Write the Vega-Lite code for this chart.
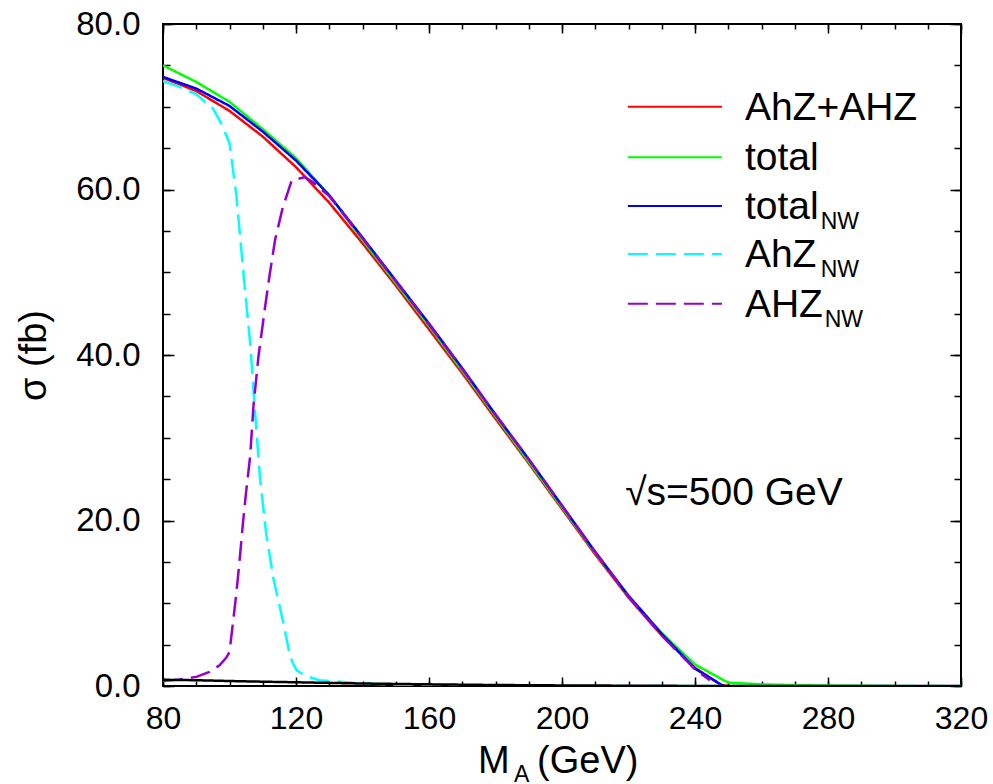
{
  "$schema": "https://vega.github.io/schema/vega-lite/v6.json",
  "width": 798,
  "height": 662,
  "autosize": {"type": "none"},
  "padding": {"left": 163, "top": 24, "right": 32, "bottom": 98},
  "background": "white",
  "config": {
    "view": {"stroke": "black", "strokeWidth": 2},
    "font": "Liberation Sans",
    "axis": {"grid": false, "domain": false, "tickColor": "black", "labelColor": "black", "titleColor": "black", "tickWidth": 1.5}
  },
  "datasets": {
    "curves": [
      {"series": "AhZ+AHZ", "m": 80, "sigma": 73.5}, {"series": "AhZ+AHZ", "m": 90, "sigma": 71.9}, {"series": "AhZ+AHZ", "m": 100, "sigma": 69.5}, {"series": "AhZ+AHZ", "m": 110, "sigma": 66.4}, {"series": "AhZ+AHZ", "m": 120, "sigma": 62.7}, {"series": "AhZ+AHZ", "m": 130, "sigma": 58.4}, {"series": "AhZ+AHZ", "m": 140, "sigma": 53.5}, {"series": "AhZ+AHZ", "m": 150, "sigma": 48.4}, {"series": "AhZ+AHZ", "m": 160, "sigma": 43.1}, {"series": "AhZ+AHZ", "m": 170, "sigma": 37.8}, {"series": "AhZ+AHZ", "m": 180, "sigma": 32.3}, {"series": "AhZ+AHZ", "m": 190, "sigma": 26.9}, {"series": "AhZ+AHZ", "m": 200, "sigma": 21.4}, {"series": "AhZ+AHZ", "m": 210, "sigma": 15.9}, {"series": "AhZ+AHZ", "m": 220, "sigma": 10.7}, {"series": "AhZ+AHZ", "m": 230, "sigma": 6.1}, {"series": "AhZ+AHZ", "m": 240, "sigma": 2.2}, {"series": "AhZ+AHZ", "m": 248, "sigma": 0.1}, {"series": "AhZ+AHZ", "m": 250, "sigma": 0.0},
      {"series": "total", "m": 80, "sigma": 75.0}, {"series": "total", "m": 90, "sigma": 73.0}, {"series": "total", "m": 100, "sigma": 70.6}, {"series": "total", "m": 110, "sigma": 67.3}, {"series": "total", "m": 120, "sigma": 63.8}, {"series": "total", "m": 130, "sigma": 59.3}, {"series": "total", "m": 140, "sigma": 53.9}, {"series": "total", "m": 150, "sigma": 48.7}, {"series": "total", "m": 160, "sigma": 43.5}, {"series": "total", "m": 170, "sigma": 38.1}, {"series": "total", "m": 180, "sigma": 32.6}, {"series": "total", "m": 190, "sigma": 27.1}, {"series": "total", "m": 200, "sigma": 21.6}, {"series": "total", "m": 210, "sigma": 16.1}, {"series": "total", "m": 220, "sigma": 10.9}, {"series": "total", "m": 230, "sigma": 6.4}, {"series": "total", "m": 240, "sigma": 2.6}, {"series": "total", "m": 250, "sigma": 0.4}, {"series": "total", "m": 260, "sigma": 0.2}, {"series": "total", "m": 270, "sigma": 0.1}, {"series": "total", "m": 280, "sigma": 0.05}, {"series": "total", "m": 290, "sigma": 0.02}, {"series": "total", "m": 300, "sigma": 0.0},
      {"series": "total_NW", "m": 80, "sigma": 73.6}, {"series": "total_NW", "m": 90, "sigma": 72.2}, {"series": "total_NW", "m": 100, "sigma": 70.1}, {"series": "total_NW", "m": 110, "sigma": 67.0}, {"series": "total_NW", "m": 120, "sigma": 63.5}, {"series": "total_NW", "m": 130, "sigma": 59.3}, {"series": "total_NW", "m": 140, "sigma": 54.2}, {"series": "total_NW", "m": 150, "sigma": 49.0}, {"series": "total_NW", "m": 160, "sigma": 43.8}, {"series": "total_NW", "m": 170, "sigma": 38.4}, {"series": "total_NW", "m": 180, "sigma": 32.8}, {"series": "total_NW", "m": 190, "sigma": 27.4}, {"series": "total_NW", "m": 200, "sigma": 21.8}, {"series": "total_NW", "m": 210, "sigma": 16.2}, {"series": "total_NW", "m": 220, "sigma": 10.9}, {"series": "total_NW", "m": 230, "sigma": 6.3}, {"series": "total_NW", "m": 240, "sigma": 2.1}, {"series": "total_NW", "m": 248.5, "sigma": 0.0},
      {"series": "AhZ_NW", "m": 80, "sigma": 73.1}, {"series": "AhZ_NW", "m": 85, "sigma": 72.4}, {"series": "AhZ_NW", "m": 90, "sigma": 71.5}, {"series": "AhZ_NW", "m": 95, "sigma": 69.8}, {"series": "AhZ_NW", "m": 97.5, "sigma": 68.0}, {"series": "AhZ_NW", "m": 100, "sigma": 65.6}, {"series": "AhZ_NW", "m": 102, "sigma": 59.5}, {"series": "AhZ_NW", "m": 103.2, "sigma": 54.3}, {"series": "AhZ_NW", "m": 104.5, "sigma": 48.5}, {"series": "AhZ_NW", "m": 106.2, "sigma": 41.5}, {"series": "AhZ_NW", "m": 107.7, "sigma": 33.0}, {"series": "AhZ_NW", "m": 109.2, "sigma": 25.0}, {"series": "AhZ_NW", "m": 111, "sigma": 18.5}, {"series": "AhZ_NW", "m": 113.2, "sigma": 13.0}, {"series": "AhZ_NW", "m": 115, "sigma": 9.8}, {"series": "AhZ_NW", "m": 116.2, "sigma": 7.6}, {"series": "AhZ_NW", "m": 118, "sigma": 4.0}, {"series": "AhZ_NW", "m": 119, "sigma": 2.8}, {"series": "AhZ_NW", "m": 120.2, "sigma": 1.9}, {"series": "AhZ_NW", "m": 123, "sigma": 1.2}, {"series": "AhZ_NW", "m": 127, "sigma": 0.7}, {"series": "AhZ_NW", "m": 135, "sigma": 0.45}, {"series": "AhZ_NW", "m": 140, "sigma": 0.3}, {"series": "AhZ_NW", "m": 150, "sigma": 0.15}, {"series": "AhZ_NW", "m": 160, "sigma": 0.08}, {"series": "AhZ_NW", "m": 180, "sigma": 0.02}, {"series": "AhZ_NW", "m": 200, "sigma": 0.0}, {"series": "AhZ_NW", "m": 320, "sigma": 0.0},
      {"series": "AHZ_NW", "m": 80, "sigma": 0.6}, {"series": "AHZ_NW", "m": 85, "sigma": 0.8}, {"series": "AHZ_NW", "m": 90, "sigma": 1.1}, {"series": "AHZ_NW", "m": 94, "sigma": 1.7}, {"series": "AHZ_NW", "m": 97, "sigma": 2.5}, {"series": "AHZ_NW", "m": 99, "sigma": 3.4}, {"series": "AHZ_NW", "m": 100, "sigma": 4.1}, {"series": "AHZ_NW", "m": 101, "sigma": 7.5}, {"series": "AHZ_NW", "m": 102, "sigma": 11.0}, {"series": "AHZ_NW", "m": 103, "sigma": 15.0}, {"series": "AHZ_NW", "m": 104, "sigma": 19.5}, {"series": "AHZ_NW", "m": 105, "sigma": 23.5}, {"series": "AHZ_NW", "m": 106.2, "sigma": 27.7}, {"series": "AHZ_NW", "m": 107.2, "sigma": 33.8}, {"series": "AHZ_NW", "m": 108.7, "sigma": 39.8}, {"series": "AHZ_NW", "m": 110.7, "sigma": 45.8}, {"series": "AHZ_NW", "m": 112, "sigma": 49.5}, {"series": "AHZ_NW", "m": 113.7, "sigma": 53.9}, {"series": "AHZ_NW", "m": 116, "sigma": 57.8}, {"series": "AHZ_NW", "m": 118.7, "sigma": 61.1}, {"series": "AHZ_NW", "m": 122.7, "sigma": 61.5}, {"series": "AHZ_NW", "m": 125, "sigma": 60.9}, {"series": "AHZ_NW", "m": 130, "sigma": 59.2}, {"series": "AHZ_NW", "m": 140, "sigma": 54.1}, {"series": "AHZ_NW", "m": 150, "sigma": 48.9}, {"series": "AHZ_NW", "m": 160, "sigma": 43.7}, {"series": "AHZ_NW", "m": 170, "sigma": 38.3}, {"series": "AHZ_NW", "m": 180, "sigma": 32.8}, {"series": "AHZ_NW", "m": 190, "sigma": 27.4}, {"series": "AHZ_NW", "m": 200, "sigma": 21.8}, {"series": "AHZ_NW", "m": 210, "sigma": 16.2}, {"series": "AHZ_NW", "m": 220, "sigma": 10.8}, {"series": "AHZ_NW", "m": 230, "sigma": 6.1}, {"series": "AHZ_NW", "m": 240, "sigma": 2.0}, {"series": "AHZ_NW", "m": 244.5, "sigma": 0.7},
      {"series": "other", "m": 80, "sigma": 0.75}, {"series": "other", "m": 90, "sigma": 0.7}, {"series": "other", "m": 100, "sigma": 0.6}, {"series": "other", "m": 110, "sigma": 0.52}, {"series": "other", "m": 120, "sigma": 0.45}, {"series": "other", "m": 140, "sigma": 0.3}, {"series": "other", "m": 160, "sigma": 0.2}, {"series": "other", "m": 180, "sigma": 0.12}, {"series": "other", "m": 200, "sigma": 0.07}, {"series": "other", "m": 230, "sigma": 0.02}, {"series": "other", "m": 250, "sigma": 0.0}, {"series": "other", "m": 320, "sigma": 0.0}
    ],
    "legend": [
      {"series": "AhZ+AHZ", "label": "AhZ+AHZ", "sub": "", "ly": 70.0, "sx": 0},
      {"series": "total", "label": "total", "sub": "", "ly": 63.9, "sx": 0},
      {"series": "total_NW", "label": "total", "sub": "NW", "ly": 58.0, "sx": 277.8},
      {"series": "AhZ_NW", "label": "AhZ", "sub": "NW", "ly": 52.2, "sx": 277.8},
      {"series": "AHZ_NW", "label": "AHZ", "sub": "NW", "ly": 46.2, "sx": 279.0}
    ],
    "frame": [{"m": 80, "sigma": 0}]
  },
  "layer": [
    {
      "data": {"name": "frame"},
      "mark": {"type": "point", "opacity": 0},
      "encoding": {
        "x": {"field": "m", "type": "quantitative", "scale": {"domain": [80, 320], "nice": false, "zero": false}, "axis": {"orient": "bottom", "values": [80,90,100,110,120,130,140,150,160,170,180,190,200,210,220,230,240,250,260,270,280,290,300,310,320], "labels": false, "tickSize": -5, "title": null}},
        "y": {"field": "sigma", "type": "quantitative", "scale": {"domain": [0, 80], "nice": false}, "axis": {"orient": "left", "values": [0,5,10,15,20,25,30,35,40,45,50,55,60,65,70,75,80], "labels": false, "tickSize": -7, "title": null}}
      }
    },
    {
      "data": {"name": "frame"},
      "mark": {"type": "point", "opacity": 0},
      "encoding": {
        "x": {"field": "m", "type": "quantitative", "axis": {"orient": "top", "values": [80,90,100,110,120,130,140,150,160,170,180,190,200,210,220,230,240,250,260,270,280,290,300,310,320], "labels": false, "tickSize": -5, "title": null}},
        "y": {"field": "sigma", "type": "quantitative", "axis": {"orient": "right", "values": [0,5,10,15,20,25,30,35,40,45,50,55,60,65,70,75,80], "labels": false, "tickSize": -7, "title": null}}
      }
    },
    {
      "data": {"name": "frame"},
      "mark": {"type": "point", "opacity": 0},
      "encoding": {
        "x": {"field": "m", "type": "quantitative", "axis": {"orient": "bottom", "values": [80,120,160,200,240,280,320], "labels": false, "tickSize": -9, "title": null}},
        "y": {"field": "sigma", "type": "quantitative", "axis": {"orient": "left", "values": [0,20,40,60,80], "labels": false, "tickSize": -11, "title": null}}
      }
    },
    {
      "data": {"name": "frame"},
      "mark": {"type": "point", "opacity": 0},
      "encoding": {
        "x": {"field": "m", "type": "quantitative", "axis": {"orient": "top", "values": [80,120,160,200,240,280,320], "labels": false, "tickSize": -9, "title": null}},
        "y": {"field": "sigma", "type": "quantitative", "axis": {"orient": "right", "values": [0,20,40,60,80], "labels": false, "tickSize": -11, "title": null}}
      }
    },
    {
      "data": {"name": "curves"},
      "mark": {"type": "line", "strokeWidth": 2.5, "clip": true},
      "encoding": {
        "x": {"field": "m", "type": "quantitative", "axis": {"orient": "bottom", "values": [80,120,160,200,240,280,320], "format": "d", "labelFontSize": 32, "labelPadding": 17, "ticks": false, "title": null, "labelFlush": false}},
        "y": {"field": "sigma", "type": "quantitative", "axis": {"orient": "left", "values": [0,20,40,60,80], "format": ".1f", "labelFontSize": 33, "labelPadding": 23, "ticks": false, "labelFlush": false, "title": "σ (fb)", "titleFontSize": 38, "titleFontWeight": "normal", "titlePadding": 22}},
        "color": {"field": "series", "type": "nominal", "scale": {"domain": ["AhZ+AHZ", "total", "total_NW", "AhZ_NW", "AHZ_NW", "other"], "range": ["#ff0000", "#00ff00", "#0000ff", "#00ffff", "#9400d3", "#000000"]}, "legend": null},
        "strokeDash": {"field": "series", "type": "nominal", "scale": {"domain": ["AhZ+AHZ", "total", "total_NW", "AhZ_NW", "AHZ_NW", "other"], "range": [[1, 0], [1, 0], [1, 0], [20, 8], [20, 8], [1, 0]]}, "legend": null}
      }
    },
    {
      "data": {"name": "legend"},
      "mark": {"type": "rule", "strokeWidth": 2},
      "encoding": {
        "x": {"datum": 219.8, "type": "quantitative", "axis": null},
        "x2": {"datum": 248.1},
        "y": {"field": "ly", "type": "quantitative", "axis": null},
        "color": {"field": "series", "type": "nominal", "legend": null},
        "strokeDash": {"field": "series", "type": "nominal", "legend": null}
      }
    },
    {
      "data": {"name": "legend"},
      "mark": {"type": "text", "fontSize": 39, "align": "left", "baseline": "alphabetic", "dy": 13, "color": "black"},
      "encoding": {
        "x": {"datum": 255, "type": "quantitative", "axis": null},
        "y": {"field": "ly", "type": "quantitative", "axis": null},
        "text": {"field": "label"}
      }
    },
    {
      "data": {"name": "legend"},
      "transform": [{"filter": "datum.sub != ''"}],
      "mark": {"type": "text", "fontSize": 23, "align": "left", "baseline": "alphabetic", "dy": 23, "color": "black"},
      "encoding": {
        "x": {"field": "sx", "type": "quantitative", "axis": null},
        "y": {"field": "ly", "type": "quantitative", "axis": null},
        "text": {"field": "sub"}
      }
    },
    {
      "data": {"values": [{"t": "√s=500 GeV"}]},
      "mark": {"type": "text", "fontSize": 39, "align": "left", "baseline": "alphabetic", "color": "black"},
      "encoding": {
        "x": {"datum": 219, "type": "quantitative", "axis": null},
        "y": {"datum": 21.9, "type": "quantitative", "axis": null},
        "text": {"field": "t"}
      }
    },
    {
      "data": {"values": [{"t": "M", "xm": 174.7, "s": "main"}, {"t": "(GeV)", "xm": 192.5, "s": "main"}]},
      "mark": {"type": "text", "fontSize": 38, "align": "left", "baseline": "alphabetic", "dy": 87, "color": "black"},
      "encoding": {
        "x": {"field": "xm", "type": "quantitative", "axis": null},
        "y": {"datum": 0, "type": "quantitative", "axis": null},
        "text": {"field": "t"}
      }
    },
    {
      "data": {"values": [{"t": "A", "xm": 185.6}]},
      "mark": {"type": "text", "fontSize": 23, "align": "left", "baseline": "alphabetic", "dy": 96, "color": "black"},
      "encoding": {
        "x": {"field": "xm", "type": "quantitative", "axis": null},
        "y": {"datum": 0, "type": "quantitative", "axis": null},
        "text": {"field": "t"}
      }
    }
  ],
  "resolve": {"axis": {"x": "independent", "y": "independent"}}
}
